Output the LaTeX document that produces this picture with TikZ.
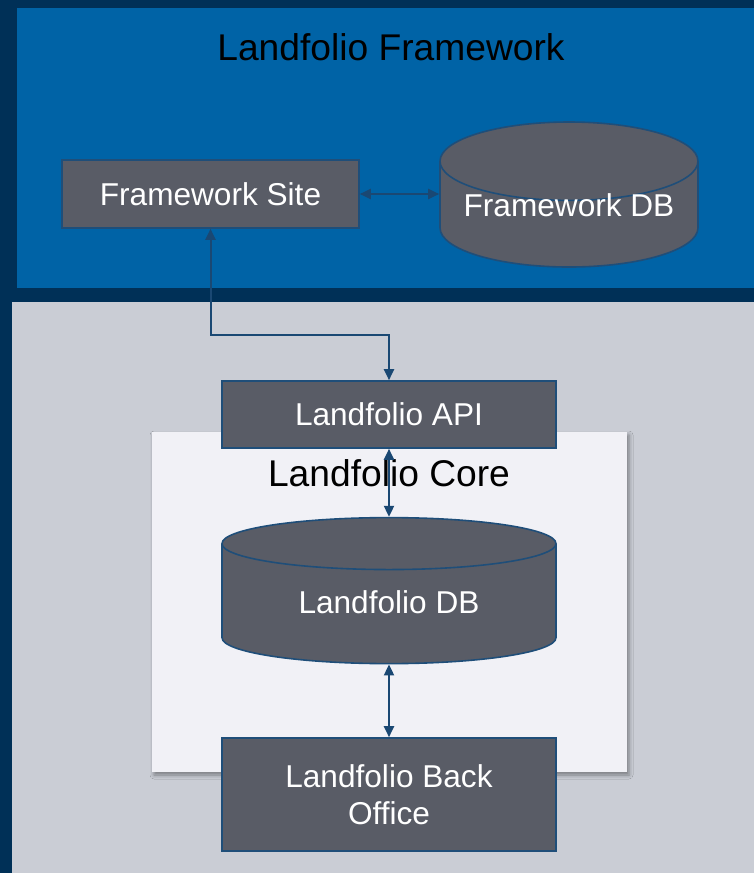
\documentclass[tikz,border=0pt]{standalone}
\usepackage{fontspec}
\setmainfont{Liberation Sans}
\usetikzlibrary{positioning,arrows.meta,shapes.geometric,shadows.blur}

\definecolor{navybg}{RGB}{0,48,87}
\definecolor{fwblue}{RGB}{0,99,166}
\definecolor{greybg}{RGB}{202,205,213}
\definecolor{corefill}{RGB}{241,241,246}
\definecolor{boxfill}{RGB}{89,92,102}
\definecolor{edgeblue}{RGB}{31,78,121}
\definecolor{linkblue}{RGB}{26,72,115}

\newcommand{\boxfont}{\fontsize{15.8}{18.5}\selectfont}
\newcommand{\titlefont}{\fontsize{18.6}{22}\selectfont}

\begin{document}
\begin{tikzpicture}[x=0.5pt, y=-0.5pt,
    >={Triangle[length=5.5pt,width=5pt]},
    box/.style={draw=edgeblue, line width=0.8pt, fill=boxfill, text=white,
      font=\boxfont, align=center, inner sep=0pt},
    dbase/.style={cylinder, shape border rotate=90, draw=edgeblue, line width=0.8pt,
      fill=boxfill, font=\boxfont, inner sep=0pt},
    dbtext/.style={font=\boxfont, text=white, inner sep=0pt},
    title/.style={font=\titlefont, text=black, inner sep=0pt},
    link/.style={<->, draw=linkblue, line width=1pt},
]
\useasboundingbox (0,0) rectangle (754,873);

% --- Backgrounds ---
\fill[navybg] (0,0) rectangle (754,873);
\fill[fwblue] (17,8) rectangle (754,288);
\fill[greybg] (12,302) rectangle (754,873);

% --- Landfolio Framework ---
\node[title] (fwtitle) at (391,47) {Landfolio Framework};
\node[box, minimum width=148.5pt, minimum height=34pt] (site) at (210.5,194) {Framework Site};
\node[dbase, minimum width=129pt, minimum height=72.5pt, aspect=0.372] (fwdb) at (569,214.5) {\phantom{Framework DB}};
\node[dbtext] (fwdbtext) at (569,205.5) {Framework DB};

% --- Landfolio Core ---
\node[fill=corefill, minimum width=237.5pt, minimum height=170pt, inner sep=0pt,
      blur shadow={shadow xshift=1pt, shadow yshift=-1.5pt, shadow blur radius=2pt}] (core) at (389.5,602) {};
\node[title] (coretitle) at (389,473) {Landfolio Core};

\node[box, minimum width=167pt, minimum height=33.5pt] (api) at (389,414.5) {Landfolio API};
\node[dbase, minimum width=167pt, minimum height=73pt, aspect=0.287] (lfdb) at (389,604) {\phantom{Landfolio DB}};
\node[dbtext] (lfdbtext) at (389,602) {Landfolio DB};
\node[box, minimum width=167pt, minimum height=56.5pt] (office) at (389,794.5) {Landfolio Back\\Office};

% --- Arrows ---
\coordinate (bend) at (389,335);
\draw[link] (site.east) -- (site.east -| fwdb.west);
\draw[link] (site.south) |- (bend) -- (api.north);
\draw[link] (api) -- (lfdb);
\draw[link] (lfdb) -- (office);

\end{tikzpicture}
\end{document}
